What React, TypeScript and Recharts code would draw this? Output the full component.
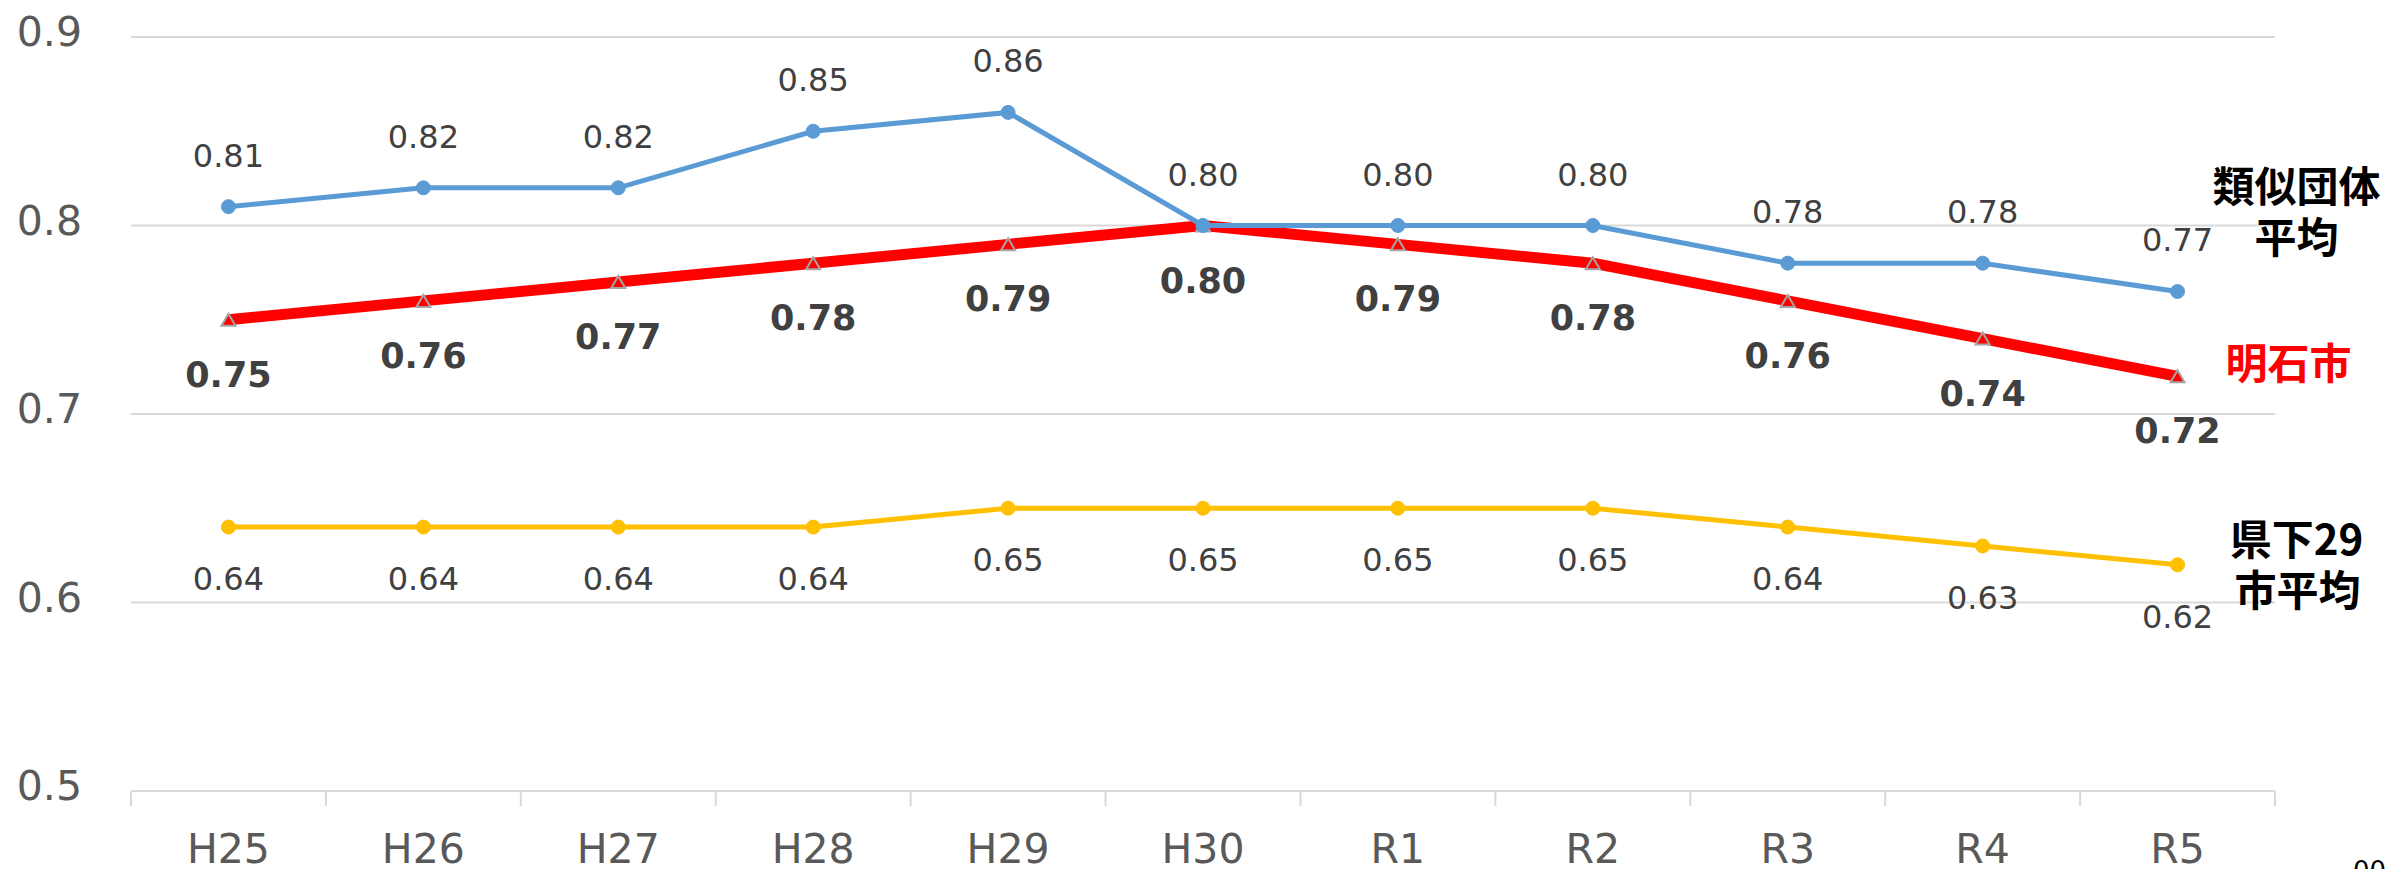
import React from 'react';
import { LineChart, Line, XAxis, YAxis, CartesianGrid } from 'recharts';

const categories = ['H25', 'H26', 'H27', 'H28', 'H29', 'H30', 'R1', 'R2', 'R3', 'R4', 'R5'];
const ruijiValues = [0.81, 0.82, 0.82, 0.85, 0.86, 0.80, 0.80, 0.80, 0.78, 0.78, 0.765];
const akashiValues = [0.75, 0.76, 0.77, 0.78, 0.79, 0.80, 0.79, 0.78, 0.76, 0.74, 0.72];
const kenkaValues = [0.64, 0.64, 0.64, 0.64, 0.65, 0.65, 0.65, 0.65, 0.64, 0.63, 0.62];
const yTicks = [0.5, 0.6, 0.7, 0.8, 0.9];

const data = categories.map((c, i) => ({
  name: c,
  ruiji: ruijiValues[i],
  akashi: akashiValues[i],
  kenka: kenkaValues[i],
}));

const W = 2387;
const H = 869;
const M = { top: 37, right: 112, left: 1, bottom: 0 };
const Y_W = 130;
const X_H = 78;
const PLOT_W = W - M.left - M.right - Y_W;
const BAND = PLOT_W / categories.length;
const LAST = categories.length - 1;

const FONT = '"DejaVu Sans", Verdana, sans-serif';
const CJK = '"Noto Sans CJK JP", "Noto Sans CJK SC", sans-serif';
const fmt = (v: number) => (Math.round(v * 100) / 100).toFixed(2);

const XTick = (props: any) => {
  const { x, y, payload, index } = props;
  return (
    <g>
      <line x1={x - BAND / 2} y1={y} x2={x - BAND / 2} y2={y + 15} stroke="#D9D9D9" strokeWidth={2} />
      {index === LAST && (
        <line x1={x + BAND / 2} y1={y} x2={x + BAND / 2} y2={y + 15} stroke="#D9D9D9" strokeWidth={2} />
      )}
      <text x={x} y={y + 72} textAnchor="middle" fontSize={41} fill="#595959" fontFamily={FONT}>
        {payload.value}
      </text>
    </g>
  );
};

const YTick = (props: any) => {
  const { x, y, payload } = props;
  return (
    <text x={x - 49} y={y + 9} textAnchor="end" fontSize={41} fill="#595959" fontFamily={FONT}>
      {String(payload.value)}
    </text>
  );
};

const blueDot = (props: any) => {
  const { cx, cy, index, payload } = props;
  return (
    <g key={`b-${index}`}>
      <circle cx={cx} cy={cy} r={7} fill="#5B9BD5" stroke="#5B9BD5" strokeWidth={1} />
      <text x={cx} y={cy - 40} textAnchor="middle" fontSize={32} fill="#404040" fontFamily={FONT}>
        {fmt(payload.ruiji)}
      </text>
      {index === LAST && (
        <g>
          <text x={cx + 119} y={cy - 89} textAnchor="middle" fontSize={42} fontWeight="bold" fill="#000" fontFamily={CJK}>
            類似団体
          </text>
          <text x={cx + 119} y={cy - 38} textAnchor="middle" fontSize={42} fontWeight="bold" fill="#000" fontFamily={CJK}>
            平均
          </text>
        </g>
      )}
    </g>
  );
};

const redDot = (props: any) => {
  const { cx, cy, index, payload } = props;
  const pts = `${cx},${cy - 6} ${cx - 7},${cy + 6} ${cx + 7},${cy + 6}`;
  return (
    <g key={`r-${index}`}>
      <polygon points={pts} fill="#FF0000" stroke="#A5A5A5" strokeWidth={2} />
      <text x={cx} y={cy + 67} textAnchor="middle" fontSize={35} fontWeight="bold" fill="#404040" fontFamily={FONT}>
        {fmt(payload.akashi)}
      </text>
      {index === LAST && (
        <text x={cx + 111} y={cy + 3} textAnchor="middle" fontSize={42} fontWeight="bold" fill="#FF0000" fontFamily={CJK}>
          明石市
        </text>
      )}
    </g>
  );
};

const yellowDot = (props: any) => {
  const { cx, cy, index, payload } = props;
  return (
    <g key={`y-${index}`}>
      <circle cx={cx} cy={cy} r={7} fill="#FFC000" stroke="#FFC000" strokeWidth={1} />
      <text x={cx} y={cy + 63} textAnchor="middle" fontSize={32} fill="#404040" fontFamily={FONT}>
        {fmt(payload.kenka)}
      </text>
      {index === LAST && (
        <g>
          <text x={cx + 119} y={cy - 10} textAnchor="middle" fontSize={42} fontWeight="bold" fill="#000" fontFamily={CJK}>
            県下29
          </text>
          <text x={cx + 120} y={cy + 41} textAnchor="middle" fontSize={42} fontWeight="bold" fill="#000" fontFamily={CJK}>
            市平均
          </text>
        </g>
      )}
    </g>
  );
};

export default function App() {
  return (
    <div style={{ position: 'absolute', left: 0, top: 0, width: W, height: H, overflow: 'hidden', background: '#fff' }}>
      <LineChart width={W} height={H} data={data} margin={M}>
        <CartesianGrid horizontal vertical={false} stroke="#D9D9D9" strokeWidth={2} />
        <XAxis
          dataKey="name"
          height={X_H}
          tickSize={0}
          tickMargin={0}
          tickLine={false}
          axisLine={{ stroke: '#D9D9D9', strokeWidth: 2 }}
          padding={{ left: BAND / 2, right: BAND / 2 }}
          tick={<XTick />}
          interval={0}
        />
        <YAxis
          type="number"
          domain={[0.5, 0.9]}
          ticks={yTicks}
          width={Y_W}
          tickSize={0}
          tickMargin={0}
          axisLine={false}
          tickLine={false}
          tick={<YTick />}
          allowDataOverflow
        />
        <Line dataKey="kenka" stroke="#FFC000" strokeWidth={5} dot={yellowDot} activeDot={false} isAnimationActive={false} />
        <Line dataKey="akashi" stroke="#FF0000" strokeWidth={11} dot={redDot} activeDot={false} isAnimationActive={false} />
        <Line dataKey="ruiji" stroke="#5B9BD5" strokeWidth={5} dot={blueDot} activeDot={false} isAnimationActive={false} />
      </LineChart>
      <div style={{ position: 'absolute', left: 2353, top: 856, fontSize: 26, fontFamily: FONT, color: '#000', lineHeight: '30px' }}>
        00
      </div>
    </div>
  );
}
